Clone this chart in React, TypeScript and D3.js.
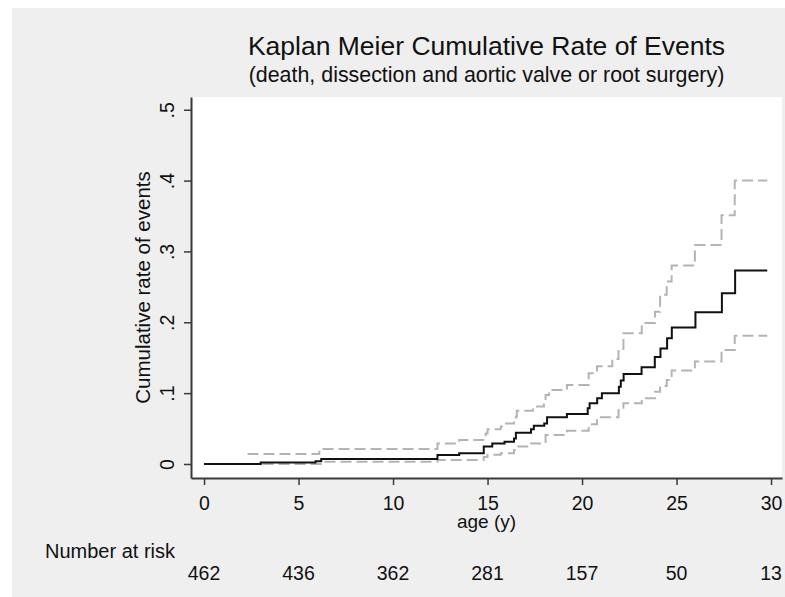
import React, { useEffect, useRef } from 'react';
import * as d3 from 'd3';

// Kaplan-Meier cumulative event rate
const kmTime = [0, 3, 5.9, 6.2, 12.35, 13.5, 14.8, 15.25, 15.9, 16.4, 16.5, 17.3, 17.45, 18.0, 18.15, 19.2, 20.3, 20.4, 20.8, 21.05, 21.95, 22.05, 22.2, 23.15, 23.85, 24.15, 24.5, 24.75, 26.0, 27.4, 28.1, 29.8];
const kmRate = [0, 0.002, 0.004, 0.007, 0.0127, 0.015, 0.0245, 0.029, 0.0315, 0.036, 0.044, 0.049, 0.054, 0.057, 0.066, 0.0706, 0.0786, 0.0857, 0.0927, 0.0998, 0.109, 0.118, 0.127, 0.1365, 0.151, 0.163, 0.1775, 0.1926, 0.214, 0.241, 0.273, 0.273];

const upperTime = [2.3, 6.1, 12.35, 13.5, 14.9, 15.0, 15.7, 15.9, 16.4, 16.5, 16.55, 17.4, 17.98, 18.07, 18.25, 19.2, 20.35, 20.79, 21.6, 21.93, 22.19, 23.16, 23.86, 24.13, 24.48, 24.74, 25.97, 27.38, 28.08, 29.8];
const upperRate = [0.014, 0.021, 0.029, 0.034, 0.043, 0.049, 0.053, 0.057, 0.06, 0.067, 0.075, 0.081, 0.09, 0.0975, 0.1045, 0.1116, 0.128, 0.138, 0.148, 0.159, 0.1845, 0.199, 0.215, 0.239, 0.2575, 0.28, 0.309, 0.351, 0.4, 0.4];

const lowerTime = [3.1, 6.3, 12.35, 14.8, 15.0, 15.7, 16.4, 16.5, 17.3, 18.07, 19.2, 20.35, 20.79, 21.93, 22.19, 23.16, 23.86, 24.13, 24.48, 24.74, 25.97, 27.38, 28.08, 29.8];
const lowerRate = [0, 0.003, 0.0056, 0.01, 0.013, 0.015, 0.0198, 0.0245, 0.029, 0.041, 0.047, 0.056, 0.066, 0.076, 0.0857, 0.0927, 0.102, 0.11, 0.1186, 0.132, 0.1445, 0.161, 0.181, 0.181];

const xTicks = [0, 5, 10, 15, 20, 25, 30];
const yTicks = [0, 0.1, 0.2, 0.3, 0.4, 0.5];
const yTickLabels = ['0', '.1', '.2', '.3', '.4', '.5'];
const atRisk = [462, 436, 362, 281, 157, 50, 13];

const W = 785;
const H = 597;
const FONT = '"Liberation Sans", Arial, sans-serif';

export default function App() {
  const svgRef = useRef<SVGSVGElement>(null);

  useEffect(() => {
    if (!svgRef.current) return;
    const root = d3.select(svgRef.current);
    root.selectAll('*').remove();

    const plot = { left: 191, right: 782, top: 97, bottom: 478 };

    root.append('rect').attr('width', W).attr('height', H).attr('fill', '#fff');
    root.append('rect').attr('x', 12).attr('y', 8).attr('width', W - 12).attr('height', H - 8).attr('fill', '#efefef');
    root.append('rect')
      .attr('x', plot.left).attr('y', plot.top)
      .attr('width', plot.right - plot.left).attr('height', plot.bottom - plot.top)
      .attr('fill', '#fff');

    const x = d3.scaleLinear().domain([-0.69, 30.58]).range([plot.left, plot.right]);
    const y = d3.scaleLinear().domain([-0.0198, 0.518]).range([plot.bottom, plot.top]);

    // titles
    root.append('text')
      .attr('x', (plot.left + plot.right) / 2).attr('y', 55)
      .attr('text-anchor', 'middle').attr('font-family', FONT).attr('font-size', 26.5).attr('fill', '#111')
      .text('Kaplan Meier Cumulative Rate of Events');
    root.append('text')
      .attr('x', (plot.left + plot.right) / 2).attr('y', 82)
      .attr('text-anchor', 'middle').attr('font-family', FONT).attr('font-size', 21.4).attr('fill', '#111')
      .text('(death, dissection and aortic valve or root surgery)');

    // curves
    const stepLine = (times: number[]) => d3.line<number>()
      .x((_, i) => x(times[i]))
      .y(d => y(d))
      .curve(d3.curveStepAfter);

    root.append('path').datum(upperRate)
      .attr('d', stepLine(upperTime))
      .attr('fill', 'none').attr('stroke', '#b4b4b4').attr('stroke-width', 2).attr('stroke-dasharray', '11,5');
    root.append('path').datum(lowerRate)
      .attr('d', stepLine(lowerTime))
      .attr('fill', 'none').attr('stroke', '#b4b4b4').attr('stroke-width', 2).attr('stroke-dasharray', '11,5');
    root.append('path').datum(kmRate)
      .attr('d', stepLine(kmTime))
      .attr('fill', 'none').attr('stroke', '#111').attr('stroke-width', 2);

    // axes
    const axisColor = '#3a3a3a';
    root.append('g')
      .attr('transform', `translate(0,${plot.bottom})`)
      .call(d3.axisBottom(x).tickValues(xTicks).tickSize(7).tickSizeOuter(0))
      .call(g => g.select('.domain').attr('stroke', axisColor).attr('stroke-width', 2))
      .call(g => g.selectAll('.tick line').attr('stroke', axisColor).attr('stroke-width', 1.5))
      .call(g => g.selectAll('.tick text')
        .attr('y', 32).attr('dy', 0)
        .attr('fill', '#111').attr('font-family', FONT).attr('font-size', 19.5));

    root.append('g')
      .attr('transform', `translate(${plot.left},0)`)
      .call(d3.axisLeft(y).tickValues(yTicks).tickSize(7).tickSizeOuter(0)
        .tickFormat((_, i) => yTickLabels[i]))
      .call(g => g.select('.domain').attr('stroke', axisColor).attr('stroke-width', 2))
      .call(g => g.selectAll('.tick line').attr('stroke', axisColor).attr('stroke-width', 1.5))
      .call(g => g.selectAll('.tick text')
        .attr('x', null).attr('dy', 0)
        .attr('transform', 'translate(-17,0) rotate(-90)')
        .attr('text-anchor', 'middle')
        .attr('fill', '#111').attr('font-family', FONT).attr('font-size', 19.5));

    // axis titles
    root.append('text')
      .attr('transform', `translate(150,${(plot.top + plot.bottom) / 2}) rotate(-90)`)
      .attr('text-anchor', 'middle').attr('font-family', FONT).attr('font-size', 20.5).attr('fill', '#111')
      .text('Cumulative rate of events');
    root.append('text')
      .attr('x', (plot.left + plot.right) / 2).attr('y', 528)
      .attr('text-anchor', 'middle').attr('font-family', FONT).attr('font-size', 19).attr('fill', '#111')
      .text('age (y)');

    // number at risk
    root.append('text')
      .attr('x', 45).attr('y', 558)
      .attr('font-family', FONT).attr('font-size', 20).attr('fill', '#111')
      .text('Number at risk');
    root.append('g').selectAll('text')
      .data(atRisk)
      .join('text')
      .attr('x', (_, i) => x(xTicks[i]))
      .attr('y', 580)
      .attr('text-anchor', 'middle').attr('font-family', FONT).attr('font-size', 19.5).attr('fill', '#111')
      .text(d => d);
  }, []);

  return (
    <svg ref={svgRef} width={W} height={H}
      style={{ position: 'absolute', left: 0, top: 0, display: 'block' }} />
  );
}
